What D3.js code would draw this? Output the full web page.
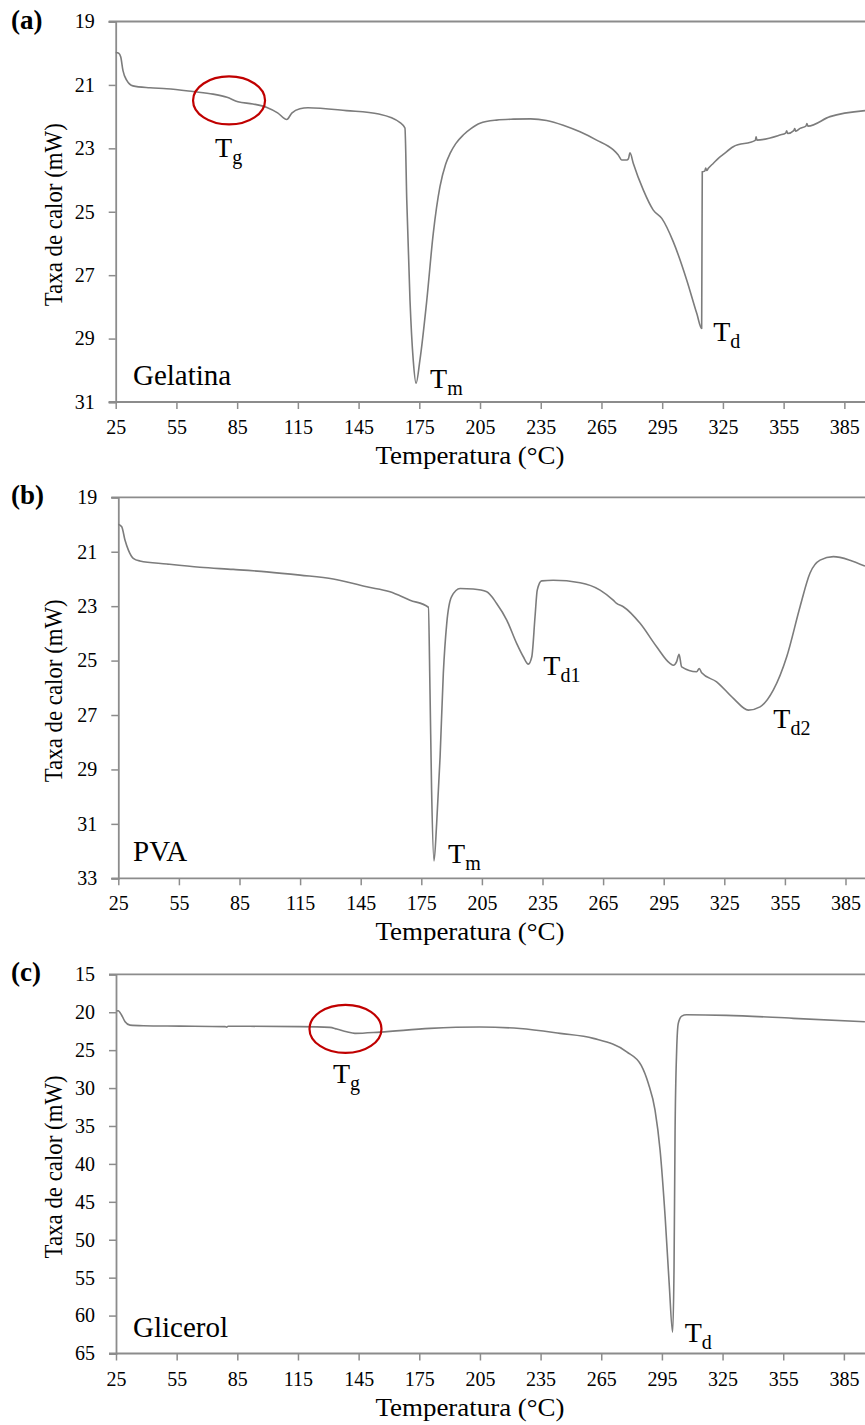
<!DOCTYPE html>
<html><head><meta charset="utf-8">
<script src="https://cdn.jsdelivr.net/npm/d3@7"></script>
<style>
body{margin:0;background:#fff}
svg{display:block}
</style>
</head><body>
<svg id="chart" width="865" height="1425"></svg>
<script>
// ---------------- DATA ----------------
const xTicks = [25,55,85,115,145,175,205,235,265,295,325,355,385];
const xDomain = [25,395];
const yTicksA = [19,21,23,25,27,29,31];
const yTicksB = [19,21,23,25,27,29,31,33];
const yTicksC = [15,20,25,30,35,40,45,50,55,60,65];
const panelLabels = ["(a)","(b)","(c)"];
const sampleNames = ["Gelatina","PVA","Glicerol"];
const xTitle = "Temperatura (°C)";
const yTitle = "Taxa de calor (mW)";

// [temperature °C, heat flow mW]
const gelatina = [[25.0,19.98],[26.5,20.0],[27.5,20.12],[28.6,20.55],[30.4,20.85],[33.5,21.03],[41.9,21.09],[50.2,21.12],[63.2,21.21],[73.1,21.29],[80.0,21.39],[85.4,21.53],[92.8,21.60],[99.7,21.71],[105,21.88],[109.5,22.09],[112,21.89],[116,21.75],[120,21.72],[139,21.81],[155,21.92],[165.5,22.19],[167.9,22.36],[168.8,24.63],[170.4,27.79],[172.0,29.68],[173.4,30.41],[175.3,29.68],[178.7,27.79],[181.9,25.68],[185.2,24.21],[188,23.5],[190.2,23.16],[193,22.85],[196.7,22.58],[200.5,22.38],[205.0,22.21],[213.2,22.11],[221.4,22.08],[230,22.07],[237.9,22.12],[246.1,22.27],[254.4,22.48],[262.6,22.74],[270.9,23.05],[273.3,23.21],[275.0,23.37],[277.5,23.37],[278.3,23.33],[279.1,23.14],[280.7,23.47],[285.7,24.32],[290.6,24.95],[294.8,25.21],[300.5,25.95],[307.1,27.15],[312.1,28.21],[314.5,28.68],[314.8,23.74],[316.0,23.72],[316.5,23.62],[317.0,23.70],[317.8,23.63],[320.3,23.47],[323,23.30],[325,23.20],[330.1,22.95],[341.0,22.75],[341.4,22.64],[341.8,22.74],[353.2,22.58],[356,22.52],[356.5,22.45],[357,22.53],[360,22.44],[360.5,22.38],[361,22.46],[363.1,22.37],[366,22.30],[366.5,22.22],[367,22.30],[377.9,22.0],[395.2,21.81]];

const pva = [[25,19.99],[26.7,20.08],[28.3,20.57],[30.0,20.94],[32.4,21.24],[35.7,21.34],[49.0,21.45],[65.4,21.57],[81.9,21.65],[98.5,21.74],[115.0,21.86],[131.4,22.0],[148.0,22.29],[159.5,22.47],[169.4,22.78],[178.5,23.04],[179.3,26.08],[180.1,29.76],[181.3,32.36],[182.6,30.99],[184.3,28.54],[185.9,25.47],[187.6,23.63],[190.0,22.65],[194.2,22.35],[200.7,22.37],[207.4,22.47],[212.3,22.9],[217.3,23.51],[222.2,24.37],[225.5,24.86],[228.0,25.13],[229.7,24.86],[231.3,23.39],[232.4,22.41],[234.6,22.07],[240.3,22.05],[253.6,22.14],[263.5,22.41],[270.0,22.78],[271.7,22.9],[275.0,23.02],[283.3,23.63],[291.5,24.49],[298.1,25.1],[299.8,25.17],[301.4,25.04],[302.6,24.77],[303.9,25.23],[311.3,25.41],[312.6,25.29],[313.8,25.45],[321.2,25.78],[329.5,26.39],[336.9,26.82],[342.7,26.7],[349.3,26.08],[355.9,24.86],[362.5,23.02],[367.4,21.79],[372.4,21.31],[379.0,21.18],[387.2,21.31],[394.6,21.53]];

const glicerol = [[25.3,19.85],[26.1,19.8],[27.8,20.4],[29.5,21.26],[31.9,21.7],[38.5,21.78],[56.7,21.83],[79.0,21.9],[79.7,21.97],[80.5,21.85],[116.0,21.9],[130.8,22.0],[134.2,22.22],[139.1,22.58],[143.2,22.79],[155.6,22.62],[180.3,22.13],[205.0,21.95],[224.8,22.15],[244.6,22.79],[261.1,23.45],[277.6,25.22],[284.7,26.97],[288.3,29.4],[291.6,32.9],[294.1,38.2],[296.6,47.0],[298.6,55.8],[300.3,62.19],[301.0,53.6],[301.5,36.0],[302.3,25.0],[303.1,21.47],[304.8,20.51],[307.2,20.33],[327.0,20.41],[360.0,20.81],[395.4,21.26]];

// annotations: label, subscript, anchor point [T, mW]
const peaksA = [{t:"T",s:"m",at:[173.4,30.41]},{t:"T",s:"d",at:[314.5,28.68]}];
const peaksB = [{t:"T",s:"m",at:[181.3,32.36]},{t:"T",s:"d1",at:[228.0,25.13]},{t:"T",s:"d2",at:[336.9,26.82]}];
const peaksC = [{t:"T",s:"d",at:[300.3,62.19]}];
const circlesA = [{t:"T",s:"g",at:[81.0,21.49]}];
const circlesC = [{t:"T",s:"g",at:[138.5,22.2]}];

// ---------------- LAYOUT ----------------
const FONT = '"Liberation Serif","Times New Roman","DejaVu Serif",serif';
const panels = [
  {data:gelatina, yTicks:yTicksA, x0:115.7, x1:864.6, yTop:21.5, yBot:402, peaks:peaksA, circles:circlesA,
   peakOff:[[14,5],[11.5,12.5]], circOff:[[-14,56.5]]},
  {data:pva, yTicks:yTicksB, x0:118.3, x1:865.7, yTop:497.3, yBot:878.3, peaks:peaksB, circles:[],
   peakOff:[[14,2.6],[15,11],[25,18.3]], circOff:[]},
  {data:glicerol, yTicks:yTicksC, x0:116, x1:864.1, yTop:974.3, yBot:1353.5, peaks:peaksC, circles:circlesC,
   peakOff:[[12,10]], circOff:[[-12.5,54]]}
];
const axisColor = "#8c8c8c", lineColor = "#7c7c7c", red = "#c00000";

const svg = d3.select("#chart");

panels.forEach((p,i)=>{
  const yDom = [p.yTicks[0], p.yTicks[p.yTicks.length-1]];
  const x = d3.scaleLinear().domain(xDomain).range([p.x0,p.x1]);
  const y = d3.scaleLinear().domain(yDom).range([p.yTop,p.yBot]);
  const g = svg.append("g");

  // top border line
  g.append("line").attr("x1",p.x0-7).attr("x2",866).attr("y1",p.yTop).attr("y2",p.yTop)
    .attr("stroke",axisColor).attr("stroke-width",1.8);

  // y axis
  const ya = g.append("g").attr("transform",`translate(${p.x0},0)`)
    .call(d3.axisLeft(y).tickValues(p.yTicks).tickSize(7).tickPadding(14).tickFormat(d3.format("d")));
  ya.attr("font-family",null).attr("font-size",null);
  ya.select(".domain").attr("stroke",axisColor).attr("stroke-width",1.8);
  ya.selectAll(".tick line").attr("stroke",axisColor).attr("stroke-width",1.5);
  ya.selectAll(".tick text").style("font-size","20px").style("font-family",FONT).attr("fill","#000");

  // x axis
  const xa = g.append("g").attr("transform",`translate(0,${p.yBot})`)
    .call(d3.axisBottom(x).tickValues(xTicks).tickSize(7).tickPadding(11).tickFormat(d3.format("d")));
  xa.attr("font-family",null).attr("font-size",null);
  xa.select(".domain").attr("stroke",axisColor).attr("stroke-width",1.8)
    .attr("d",`M${p.x0-7},0H866`);
  xa.selectAll(".tick line").attr("stroke",axisColor).attr("stroke-width",1.5);
  xa.selectAll(".tick text").style("font-size","20px").style("font-family",FONT).attr("fill","#000");

  // curve
  const line = d3.line().x(d=>x(d[0])).y(d=>y(d[1])).curve(d3.curveMonotoneX);
  g.append("path").datum(p.data).attr("d",line).attr("fill","none")
    .attr("stroke",lineColor).attr("stroke-width",1.6).attr("stroke-linejoin","round");

  // titles
  g.append("text").attr("x",470).attr("y",p.yBot+62).attr("text-anchor","middle")
    .style("font-family",FONT).style("font-size","25px")
    .attr("textLength",189).attr("lengthAdjust","spacingAndGlyphs").text(xTitle);
  const cy = (p.yTop+p.yBot)/2+3;
  g.append("text").attr("transform",`translate(62,${cy}) rotate(-90)`).attr("text-anchor","middle")
    .style("font-family",FONT).style("font-size","25px")
    .attr("textLength",183).attr("lengthAdjust","spacingAndGlyphs").text(yTitle);

  // panel label and sample name
  g.append("text").attr("x",11).attr("y",p.yTop+7).style("font-family",FONT).style("font-size","27px")
    .style("font-weight","bold").text(panelLabels[i]);
  g.append("text").attr("x",133).attr("y",p.yBot-17).style("font-family",FONT).style("font-size","29px")
    .text(sampleNames[i]);

  // peak labels
  function subLabel(px,py,a){
    const t = g.append("text").attr("x",px).attr("y",py).style("font-family",FONT).style("font-size","28px");
    t.append("tspan").text(a.t);
    t.append("tspan").style("font-size","20px").attr("dy",7).text(a.s);
  }
  p.peaks.forEach((a,k)=>{
    subLabel(x(a.at[0])+p.peakOff[k][0], y(a.at[1])+p.peakOff[k][1], a);
  });
  p.circles.forEach((a,k)=>{
    const cx = x(a.at[0]), cyy = y(a.at[1]);
    g.append("ellipse").attr("cx",cx).attr("cy",cyy).attr("rx",36).attr("ry",24)
      .attr("fill","none").attr("stroke",red).attr("stroke-width",2.2);
    subLabel(cx+p.circOff[k][0], cyy+p.circOff[k][1], a);
  });
});
</script>
</body></html>
